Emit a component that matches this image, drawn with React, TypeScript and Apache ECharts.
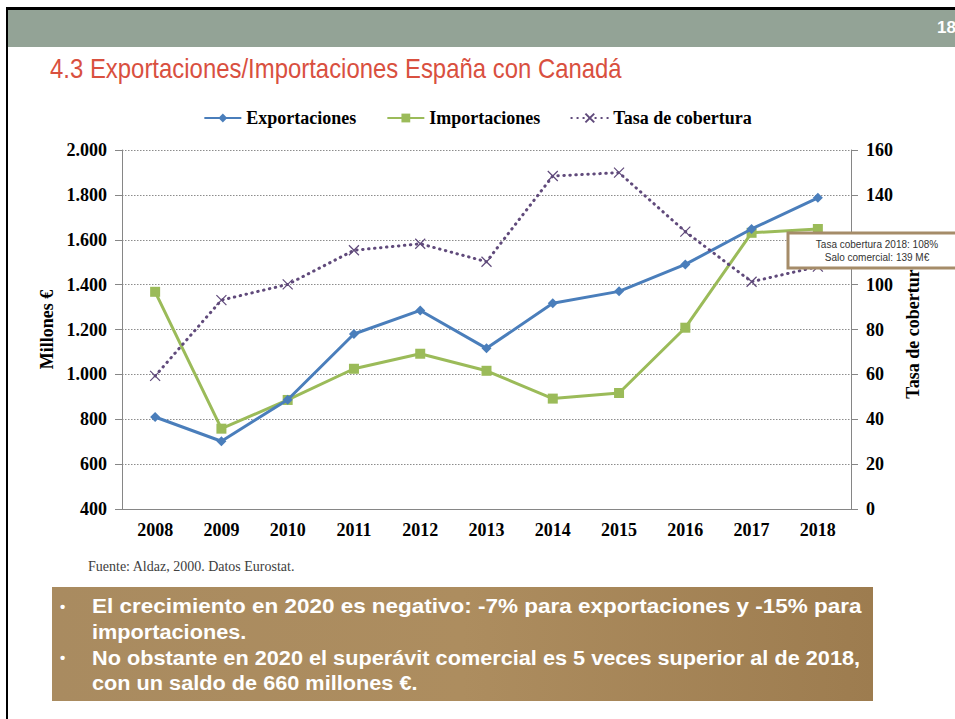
import React, { useEffect, useRef } from "react";
import * as echarts from "echarts";

const years = ["2008", "2009", "2010", "2011", "2012", "2013", "2014", "2015", "2016", "2017", "2018"];
const exportaciones = [810, 702, 887, 1180, 1285, 1116, 1317, 1370, 1490, 1648, 1787];
const importaciones = [1368, 758, 886, 1025, 1092, 1016, 892, 917, 1208, 1631, 1648];
const tasaCobertura = [59.3, 93.1, 100.1, 115.3, 118.2, 110.2, 148.4, 149.9, 123.6, 101.3, 108];

const seriesNames = ["Exportaciones", "Importaciones", "Tasa de cobertura"];
const leftAxis = { min: 400, max: 2000, interval: 200, name: "Millones €" };
const rightAxis = { min: 0, max: 160, interval: 20, name: "Tasa de cobertura" };
// right-axis tick hidden under the note box in the reference
const hiddenRightTicks = [120];

const titleText = "4.3 Exportaciones/Importaciones España con Canadá";
const pageNumber = "18";
const sourceText = "Fuente: Aldaz, 2000. Datos Eurostat.";
const noteLines = [
  "Tasa cobertura 2018: 108%",
  "Salo comercial: 139 M€",
];
const bulletLines = [
  { text: "El crecimiento en 2020 es negativo: -7% para exportaciones y -15% para", bullet: true, fit: true },
  { text: "importaciones.", bullet: false, fit: false },
  { text: "No obstante en 2020 el superávit comercial es 5 veces superior al de 2018,", bullet: true, fit: true },
  { text: "con un saldo de 660 millones €.", bullet: false, fit: false },
];

const SERIF = "'Liberation Serif', 'Times New Roman', serif";
const SANS = "'Liberation Sans', Arial, sans-serif";

function fmtThousands(v: number): string {
  if (v >= 1000) {
    const th = Math.floor(v / 1000);
    const rest = String(v % 1000).padStart(3, "0");
    return th + "." + rest;
  }
  return String(v);
}

export default function App() {
  const ref = useRef<HTMLDivElement>(null);

  useEffect(() => {
    if (!ref.current) return;
    const chart = echarts.init(ref.current, undefined, { renderer: "svg" });

    const canvas = document.createElement("canvas");
    const ctx = canvas.getContext("2d")!;

    const titleFont = "27px 'Liberation Sans Narrow', 'Liberation Sans', Arial, sans-serif";
    ctx.font = titleFont;
    const titleW = ctx.measureText(titleText).width || 572;
    const titleScale = 572 / titleW;

    const bulletFont = "bold 20px " + SANS;
    ctx.font = bulletFont;
    const boxX0 = 52, boxX1 = 873, boxY0 = 587, boxY1 = 701;
    const textX0 = 92;
    const fitWidths = [770, 0, 768, 0];
    const lineY0 = 606, lineStep = 25.7;
    const w3 = ctx.measureText(bulletLines[2].text).width || 768;
    const baseScale = 768 / w3;
    const bulletEls: any[] = [];
    bulletLines.forEach((ln, i) => {
      const y = lineY0 + i * lineStep;
      if (ln.bullet) {
        bulletEls.push({
          type: "text", x: 60, y, z: 101,
          style: { text: "•", fill: "#ffffff", font: "bold 15px " + SANS, textAlign: "left", textVerticalAlign: "middle" },
        });
      }
      let sc = baseScale;
      if (ln.fit) {
        const w = ctx.measureText(ln.text).width || fitWidths[i];
        sc = fitWidths[i] / w;
      }
      bulletEls.push({
        type: "text", x: textX0, y, scaleX: sc, z: 101,
        style: { text: ln.text, fill: "#ffffff", font: bulletFont, textAlign: "left", textVerticalAlign: "middle" },
      });
    });

    const option: any = {
      animation: false,
      backgroundColor: "#ffffff",
      grid: { left: 122, right: 104, top: 150, bottom: 210, containLabel: false },
      legend: {
        data: seriesNames,
        top: 104,
        left: "center",
        itemWidth: 37,
        itemHeight: 11,
        itemGap: 30,
        textStyle: { fontFamily: SERIF, fontWeight: "bold", fontSize: 18, color: "#000000" },
      },
      xAxis: {
        type: "category",
        data: years,
        boundaryGap: true,
        axisLine: { show: true, lineStyle: { color: "#868686", width: 1 } },
        axisTick: { show: false },
        axisLabel: { fontFamily: SERIF, fontWeight: "bold", fontSize: 18, color: "#000000", margin: 12 },
      },
      yAxis: [
        {
          type: "value",
          min: leftAxis.min,
          max: leftAxis.max,
          interval: leftAxis.interval,
          name: leftAxis.name,
          nameLocation: "middle",
          nameGap: 65,
          nameRotate: 90,
          nameTextStyle: { fontFamily: SERIF, fontWeight: "bold", fontSize: 18, color: "#000000" },
          axisLine: { show: true, lineStyle: { color: "#868686", width: 1 } },
          axisTick: { show: true, length: 7, lineStyle: { color: "#868686" } },
          axisLabel: { formatter: (v: number) => fmtThousands(v), fontFamily: SERIF, fontWeight: "bold", fontSize: 18, color: "#000000", margin: 15 },
          splitLine: { show: true, lineStyle: { color: "#8c8c8c", type: [1.5, 1.5], width: 1 } },
        },
        {
          type: "value",
          min: rightAxis.min,
          max: rightAxis.max,
          interval: rightAxis.interval,
          name: rightAxis.name,
          nameLocation: "middle",
          nameGap: 50,
          nameRotate: 90,
          nameTextStyle: { fontFamily: SERIF, fontWeight: "bold", fontSize: 18, color: "#000000" },
          axisLine: { show: true, lineStyle: { color: "#868686", width: 1 } },
          axisTick: { show: true, length: 7, lineStyle: { color: "#868686" } },
          axisLabel: {
            formatter: (v: number) => (hiddenRightTicks.indexOf(v) >= 0 ? "" : String(v)),
            fontFamily: SERIF, fontWeight: "bold", fontSize: 18, color: "#000000", margin: 15,
          },
          splitLine: { show: false },
        },
      ],
      series: [
        {
          name: seriesNames[0],
          type: "line",
          data: exportaciones,
          yAxisIndex: 0,
          symbol: "diamond",
          symbolSize: 10,
          itemStyle: { color: "#4a7ebb" },
          lineStyle: { color: "#4a7ebb", width: 3 },
          z: 3,
        },
        {
          name: seriesNames[1],
          type: "line",
          data: importaciones,
          yAxisIndex: 0,
          symbol: "rect",
          symbolSize: 10,
          itemStyle: { color: "#9bbb59" },
          lineStyle: { color: "#9bbb59", width: 3 },
          z: 2,
        },
        {
          name: seriesNames[2],
          type: "line",
          data: tasaCobertura,
          yAxisIndex: 1,
          symbol: "path://M0 0L10 10M10 0L0 10",
          symbolSize: 10,
          itemStyle: { color: "#604a7b", borderColor: "#604a7b", borderWidth: 1.2 },
          lineStyle: { color: "#604a7b", width: 3, type: [0.5, 5.5], cap: "round" },
          z: 4,
        },
      ],
      graphic: [
        { type: "rect", shape: { x: 8, y: 10, width: 947, height: 37 }, style: { fill: "#93a396" }, z: 100 },
        { type: "rect", shape: { x: 6, y: 7, width: 949, height: 3 }, style: { fill: "#000000" }, z: 100 },
        { type: "rect", shape: { x: 6, y: 7, width: 2, height: 712 }, style: { fill: "#000000" }, z: 100 },
        {
          type: "text", x: 937, y: 27, z: 101,
          style: { text: pageNumber, fill: "#ffffff", font: "bold 17px " + SANS, textAlign: "left", textVerticalAlign: "middle" },
        },
        {
          type: "text", x: 50, y: 68, scaleX: titleScale, z: 101,
          style: { text: titleText, fill: "#d9503f", font: titleFont, textAlign: "left", textVerticalAlign: "middle" },
        },
        {
          type: "rect", z: 100,
          shape: { x: 788, y: 233, width: 180, height: 35 },
          style: { fill: "#ffffff", stroke: "#a58c69", lineWidth: 3 },
        },
        {
          type: "text", x: 877, y: 244, z: 101,
          style: { text: noteLines[0], fill: "#333333", font: "10px " + SANS, textAlign: "center", textVerticalAlign: "middle" },
        },
        {
          type: "text", x: 877, y: 257.5, z: 101,
          style: { text: noteLines[1], fill: "#333333", font: "10px " + SANS, textAlign: "center", textVerticalAlign: "middle" },
        },
        {
          type: "text", x: 88, y: 566, z: 101,
          style: { text: sourceText, fill: "#404040", font: "14px " + SERIF, textAlign: "left", textVerticalAlign: "middle" },
        },
        {
          type: "rect", z: 100,
          shape: { x: boxX0, y: boxY0, width: boxX1 - boxX0, height: boxY1 - boxY0 },
          style: {
            fill: new echarts.graphic.LinearGradient(0, 0, 1, 0, [
              { offset: 0, color: "#a98b60" },
              { offset: 0.5, color: "#ad8d5f" },
              { offset: 1, color: "#9d7c4f" },
            ]),
          },
        },
        ...bulletEls,
      ],
    };

    chart.setOption(option);
    return () => chart.dispose();
  }, []);

  return (
    <div
      ref={ref}
      style={{ position: "fixed", left: 0, top: 0, width: 955, height: 719, background: "#ffffff" }}
    />
  );
}
